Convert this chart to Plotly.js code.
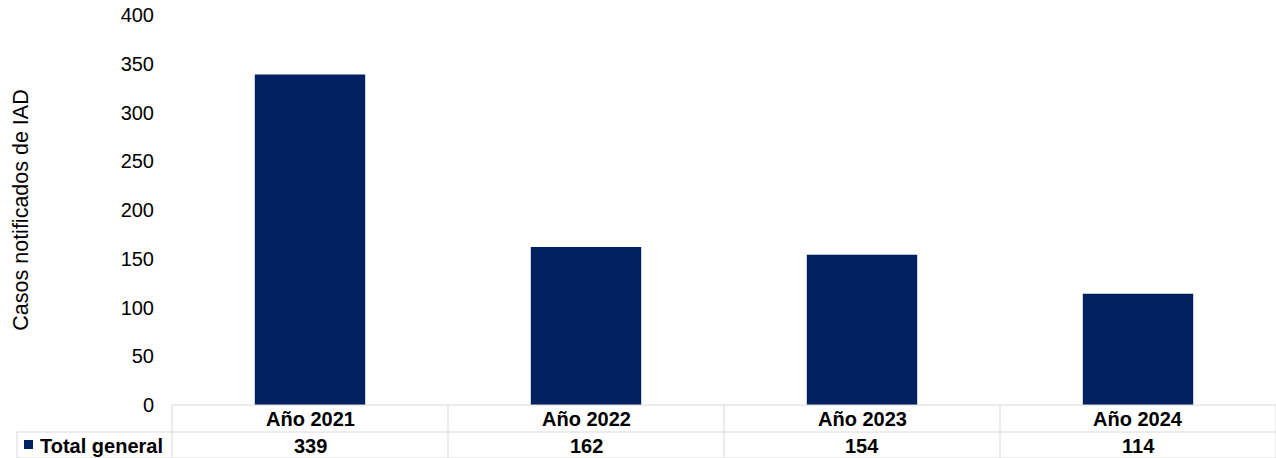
<!DOCTYPE html>
<html><head><meta charset="utf-8">
<script src="https://cdn.plot.ly/plotly-3.0.1.min.js"></script>
<style>html,body{margin:0;padding:0;background:#fff;}#chart{width:1276px;height:458px;}</style>
</head><body><div id="chart"></div>
<script>
const categories = ["Año 2021", "Año 2022", "Año 2023", "Año 2024"];
const values = [339, 162, 154, 114];
const seriesName = "Total general";
const yTicks = [0, 50, 100, 150, 200, 250, 300, 350, 400];

const navy = "#002060";
const gridCol = "#d9d9d9";
const font = "Liberation Sans, Arial, sans-serif";

const PW = 1104, PH = 390;
const px = (p) => p / PW;   // pixel offset -> paper x
const py = (p) => p / PH;   // pixel offset -> paper y

const shapes = [];
const line = (x0, y0, x1, y1) => shapes.push({type:"line", xref:"paper", yref:"paper", x0, y0, x1, y1, line:{color:gridCol, width:1}});
// table horizontal lines
line(0, 0, 1, 0);
line(px(-155), -py(27), 1, -py(27));
line(px(-155), -py(53), 1, -py(53));
// vertical lines
line(0, 0, 0, -py(53));
line(px(-155), -py(27), px(-155), -py(53));
for (let i = 1; i < categories.length; i++) line(i / categories.length, 0, i / categories.length, -py(53));
line(1, 0, 1, -py(53));
// legend key
shapes.push({type:"rect", xref:"paper", yref:"paper", x0:px(-148), x1:px(-139), y0:-py(35), y1:-py(44), fillcolor:navy, line:{width:0}});

const annotations = [];
categories.forEach((c, i) => {
  annotations.push({x:c, xref:"x", y:-py(13.5), yref:"paper", text:"<b>"+c+"</b>", showarrow:false, font:{family:font, size:20, color:"#000"}, yanchor:"middle"});
  annotations.push({x:c, xref:"x", y:-py(40.5), yref:"paper", text:"<b>"+values[i]+"</b>", showarrow:false, font:{family:font, size:20, color:"#000"}, yanchor:"middle"});
});
annotations.push({x:px(-134), xref:"paper", xanchor:"left", y:-py(40.5), yref:"paper", yanchor:"middle", text:"<b>"+seriesName+"</b>", showarrow:false, font:{family:font, size:20, color:"#000"}});

Plotly.newPlot("chart", [{
  type:"bar", x:categories, y:values, name:seriesName, marker:{color:navy}, hoverinfo:"skip"
}], {
  width:1276, height:458,
  margin:{l:172, r:0, t:15, b:53, pad:0},
  paper_bgcolor:"#fff", plot_bgcolor:"#fff",
  bargap:0.6,
  showlegend:false,
  font:{family:font, size:20, color:"#000"},
  xaxis:{showticklabels:false, showgrid:false, zeroline:false, showline:false, ticks:""},
  yaxis:{range:[0,400], tickvals:yTicks, showgrid:false, zeroline:false, showline:false, ticks:"",
         tickfont:{family:font, size:20, color:"#000"}, ticklabelstandoff:17,
         title:{text:"Casos notificados de IAD", font:{family:font, size:21.5, color:"#000"}, standoff:86}},
  shapes, annotations
}, {staticPlot:true});
</script></body></html>
